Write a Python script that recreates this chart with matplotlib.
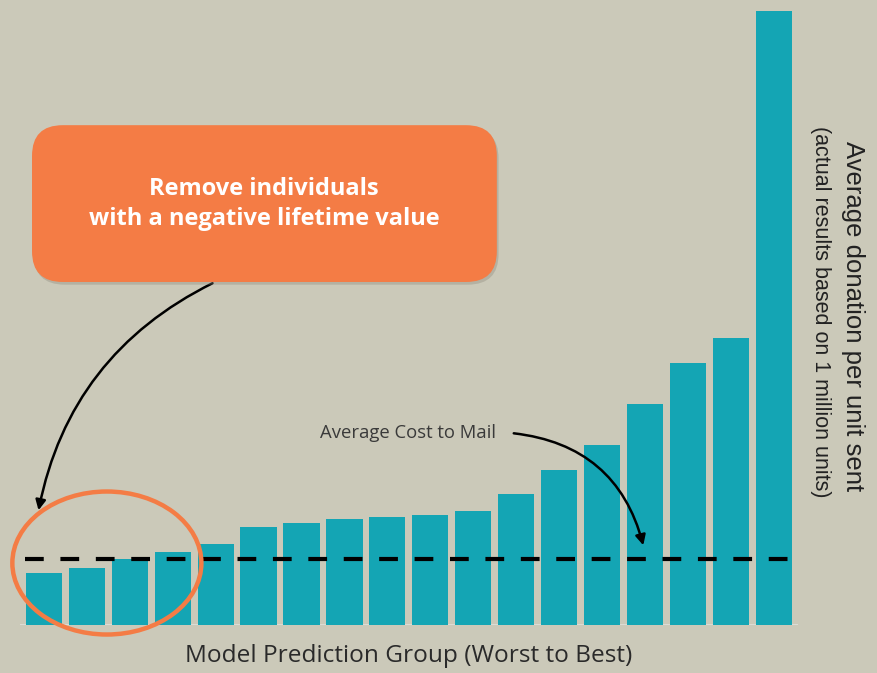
import matplotlib.pyplot as plt
from matplotlib.patches import FancyBboxPatch, Ellipse, FancyArrowPatch

# Average donation per unit sent, for each model group (worst to best)
groups = list(range(1, 19))
donation = [0.52, 0.57, 0.66, 0.73, 0.81, 0.98, 1.02, 1.06, 1.08,
            1.10, 1.14, 1.31, 1.55, 1.80, 2.21, 2.62, 2.87, 6.14]
mail_cost = 0.66

bg = '#cbc9b9'
teal = '#14a5b4'
orange = '#f47c45'

fig = plt.figure(figsize=(8.77, 6.73), dpi=100, facecolor=bg)
ax = fig.add_axes([0.0229, 0.0713, 0.8867, 0.9287])
ax.set_facecolor(bg)

x = [g - 1 for g in groups]
ax.bar(x, donation, width=0.84, color=teal, zorder=2)
ax.set_xlim(-0.55, 17.55)
ax.set_ylim(0, 6.25)
ax.axhline(0, color='#e0e0dc', lw=1.2, zorder=1)

# average cost to mail
ax.plot([-0.43, 17.4], [mail_cost, mail_cost], color='black', lw=3,
        dashes=(4.5, 4), zorder=3)

for s in ax.spines.values():
    s.set_visible(False)
ax.set_xticks([])
ax.set_yticks([])

# circle around the lowest groups
ax.add_patch(Ellipse((1.47, 0.62), 4.4, 1.43, fill=False, ec=orange,
                     lw=3.2, clip_on=False, zorder=4))

# orange callout box with a soft shadow
for dx, dy, fc, a in [(0.002, -0.004, '#8a8578', 0.35), (0, 0, orange, 1)]:
    box = FancyBboxPatch((0.0365 + dx, 0.581 + dy), 0.530, 0.233,
                         transform=fig.transFigure,
                         boxstyle='round,pad=0,rounding_size=0.035',
                         fc=fc, ec='none', alpha=a, mutation_aspect=877 / 673)
    fig.patches.append(box)
fig.text(0.301, 1 - 204 / 673, 'Remove individuals\nwith a negative lifetime value',
         ha='center', va='center', color='white', fontsize=17,
         fontweight='bold', family='Open Sans', linespacing=1.35)

# arrows
fig.add_artist(FancyArrowPatch(
    (215 / 877, 1 - 282 / 673), (38 / 877, 1 - 513 / 673),
    transform=fig.transFigure, connectionstyle='arc3,rad=0.25',
    arrowstyle='-|>,head_length=6,head_width=3', color='black', lw=1.8))
fig.add_artist(FancyArrowPatch(
    (511 / 877, 1 - 433 / 673), (644 / 877, 1 - 548 / 673),
    transform=fig.transFigure, connectionstyle='arc3,rad=-0.35',
    arrowstyle='-|>,head_length=6,head_width=3', color='black', lw=1.8))

fig.text(320 / 877, 1 - 433 / 673, 'Average Cost to Mail', ha='left',
         va='center', fontsize=13.3, color='#3a3a3a', family='Open Sans')

fig.text(409 / 877, 1 - 656 / 673, 'Model Prediction Group (Worst to Best)',
         ha='center', va='center', fontsize=17.6, color='#2a2a2a',
         family='Open Sans')

fig.text(853 / 877, 1 - 316 / 673, 'Average donation per unit sent',
         rotation=270, ha='center', va='center', fontsize=18.5,
         color='#222222', family='Liberation Sans')
fig.text(820 / 877, 1 - 312 / 673, '(actual results based on 1 million units)',
         rotation=270, ha='center', va='center', fontsize=15.5,
         color='#222222', family='Liberation Sans')

fig.savefig('out.png', dpi=100, facecolor=bg)
